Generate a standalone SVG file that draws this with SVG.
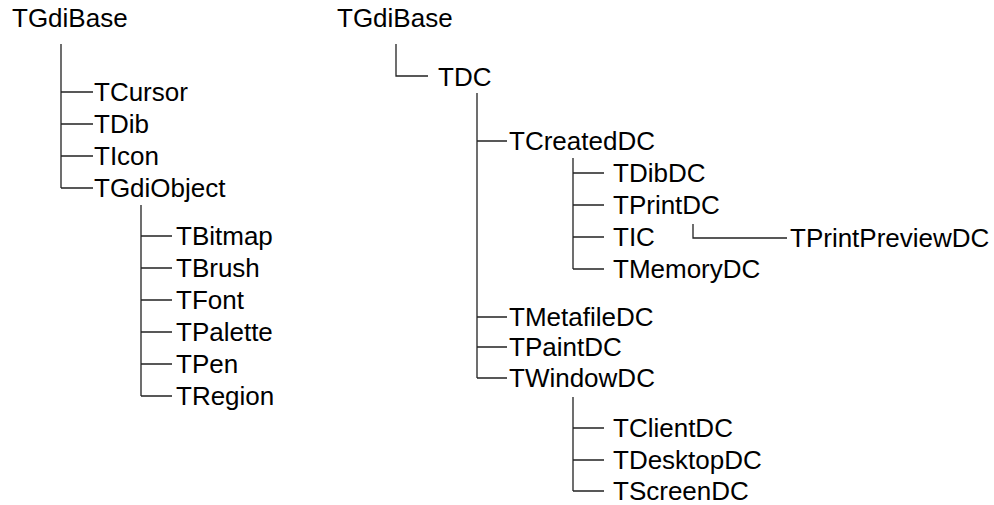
<svg xmlns="http://www.w3.org/2000/svg" width="994" height="505" viewBox="0 0 994 505">
<style>
text{font-family:"Liberation Sans",Arial,sans-serif;font-size:26px;fill:#000}
.c{fill:none;stroke:#222;stroke-width:1.3}
</style>
<rect width="994" height="505" fill="#fff"/>
<g id="connectors">
<path class="c" d="M61 44V188M61 92H93M61 124H93M61 156H93M61 188H93"/>
<path class="c" d="M141 205V396M141 236H172M141 268H172M141 300H172M141 332H172M141 364H172M141 396H172"/>
<path class="c" d="M396 44V76H428"/>
<path class="c" d="M477 93V378M477 141H507M477 317H507M477 347H507M477 378H507"/>
<path class="c" d="M573 158V269M573 173H604M573 205H604M573 237H604M573 269H604"/>
<path class="c" d="M693 224V238H787"/>
<path class="c" d="M573 397V491M573 428H604M573 460H604M573 491H604"/>
</g>
<g id="TGdiBase_L"><text x="12" y="27">TGdiBase</text></g>
<g id="TCursor"><text x="94" y="101">TCursor</text></g>
<g id="TDib"><text x="94" y="133">TDib</text></g>
<g id="TIcon"><text x="94" y="165">TIcon</text></g>
<g id="TGdiObject"><text x="94" y="197">TGdiObject</text></g>
<g id="TBitmap"><text x="176" y="245">TBitmap</text></g>
<g id="TBrush"><text x="176" y="277">TBrush</text></g>
<g id="TFont"><text x="176" y="309">TFont</text></g>
<g id="TPalette"><text x="176" y="341">TPalette</text></g>
<g id="TPen"><text x="176" y="373">TPen</text></g>
<g id="TRegion"><text x="176" y="405">TRegion</text></g>
<g id="TGdiBase_R"><text x="337" y="27">TGdiBase</text></g>
<g id="TDC"><text x="438" y="86">TDC</text></g>
<g id="TCreatedDC"><text x="509" y="150">TCreatedDC</text></g>
<g id="TDibDC"><text x="613" y="182">TDibDC</text></g>
<g id="TPrintDC"><text x="613" y="214">TPrintDC</text></g>
<g id="TIC"><text x="613" y="246">TIC</text></g>
<g id="TMemoryDC"><text x="613" y="278">TMemoryDC</text></g>
<g id="TPrintPreviewDC"><text x="790" y="247">TPrintPreviewDC</text></g>
<g id="TMetafileDC"><text x="509" y="326">TMetafileDC</text></g>
<g id="TPaintDC"><text x="509" y="356">TPaintDC</text></g>
<g id="TWindowDC"><text x="509" y="387">TWindowDC</text></g>
<g id="TClientDC"><text x="613" y="437">TClientDC</text></g>
<g id="TDesktopDC"><text x="613" y="469">TDesktopDC</text></g>
<g id="TScreenDC"><text x="613" y="500">TScreenDC</text></g>
</svg>
